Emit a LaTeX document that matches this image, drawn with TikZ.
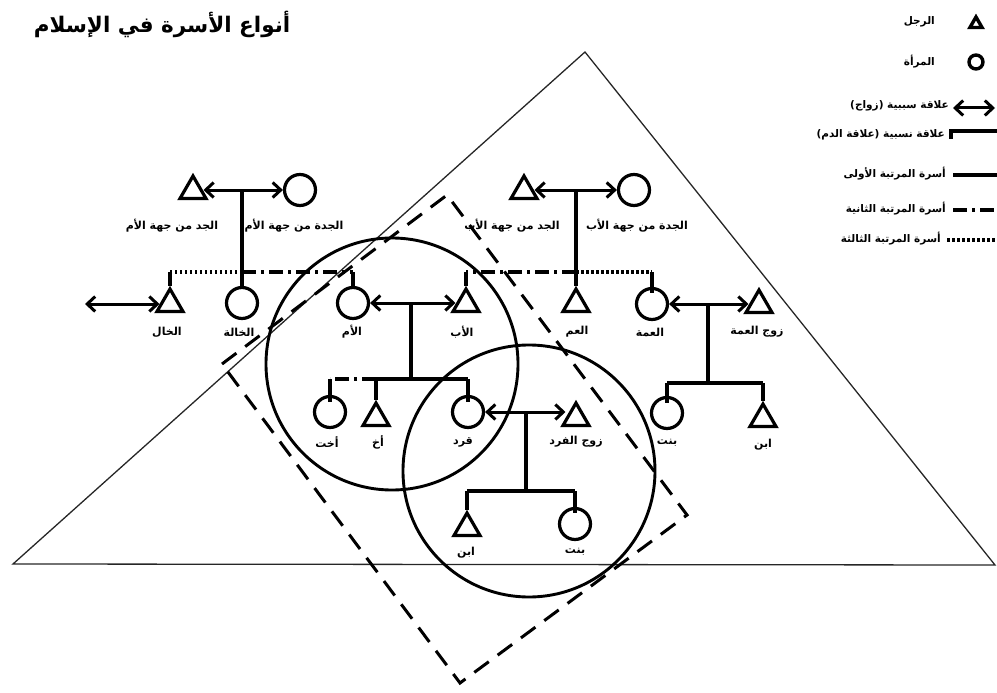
\documentclass[tikz,border=0pt]{standalone}
\usepackage{fontspec}
\newfontfamily\arabicfont[Script=Arabic]{DejaVu Sans}
\TeXXeTstate=1
\usetikzlibrary{arrows.meta,shapes.geometric}
\tikzset{man/.style={draw,regular polygon,regular polygon sides=3,line width=3.2pt,
 minimum size=30pt,inner sep=0pt},
 woman/.style={draw,circle,line width=3.2pt,minimum size=31pt,inner sep=0pt},
 lab/.style={font=\arabicfont\bfseries\fontsize{11}{13}\selectfont,inner sep=1pt},
 keylab/.style={lab,anchor=east,font=\arabicfont\bfseries\fontsize{10.5}{12}\selectfont},
 marr/.style={{Straight Barb[length=8pt,width=15pt]}-{Straight Barb[length=8pt,width=15pt]},
 line width=3pt},
 kin/.style={line width=3.2pt},
 rankb/.style={kin,dash pattern=on 14pt off 5pt on 3pt off 5pt},
 rankc/.style={kin,dash pattern=on 2.5pt off 2.5pt},
 ring/.style={line width=2.9pt},
 zone/.style={line width=3pt,dash pattern=on 18pt off 11pt},
 frame/.style={line width=1.3pt,black!85}}
\begin{document}
\begin{tikzpicture}[x=1pt,y=-1pt]
\useasboundingbox (0,0) rectangle (997,693);
% background: pyramid, zones
\coordinate (p1) at (13,564);
\coordinate (p2) at (585,52);
\coordinate (p3) at (995,565);
\draw[frame] (p1)--(p2)--(p3)--cycle;
\coordinate (z1) at (222,364);
\coordinate (z2) at (447,195);
\coordinate (z3) at (687,515);
\coordinate (z4) at (460,683);
\draw[zone] (z1)--(z2)--(z3)--(z4)--cycle;
\draw[ring] (392,364) circle[radius=126pt];
\draw[ring] (529,471) circle[radius=126pt];

\node[font=\arabicfont\bfseries\fontsize{21.5}{25}\selectfont] (title) at (162,24)
 {\beginR أنواع الأسرة في الإسلام\endR};

% grandparents
\node[man] (jdm) at (193,191) {};
\node[woman] (jdtm) at (300,190) {};
\node[man] (jdb) at (524,191) {};
\node[woman] (jdtb) at (634,190) {};
\node[lab] (l-jdm) at (172,226) {\beginR الجد من جهة الأم\endR};
\node[lab] (l-jdtm) at (294,226) {\beginR الجدة من جهة الأم\endR};
\node[lab] (l-jdb) at (512,226) {\beginR الجد من جهة الأب\endR};
\node[lab] (l-jdtb) at (637,226) {\beginR الجدة من جهة الأب\endR};
% parents, uncles, aunts
\node[man] (khal) at (170,304) {};
\node[woman] (khala) at (242,303) {};
\node[woman] (umm) at (353,303) {};
\node[man] (ab) at (466,304) {};
\node[man] (amm) at (576,304) {};
\node[woman] (amma) at (652,304) {};
\node[man] (zamma) at (759,305) {};
\node[lab] (l-khal) at (167,332) {\beginR الخال\endR};
\node[lab] (l-khala) at (239,332) {\beginR الخالة\endR};
\node[lab] (l-umm) at (352,332) {\beginR الأم\endR};
\node[lab] (l-ab) at (462,332) {\beginR الأب\endR};
\node[lab] (l-amm) at (577,332) {\beginR العم\endR};
\node[lab] (l-amma) at (650,332) {\beginR العمة\endR};
\node[lab] (l-zamma) at (757,332) {\beginR زوج العمة\endR};
% siblings, individual, cousins
\node[woman] (ukht) at (330,412) {};
\node[man] (akh) at (376,418) {};
\node[woman] (fard) at (468,412) {};
\node[man] (zfard) at (576,418) {};
\node[woman] (bint2) at (667,413) {};
\node[man] (ibn2) at (763,419) {};
\node[lab] (l-ukht) at (327,442) {\beginR أخت\endR};
\node[lab] (l-akh) at (378,442) {\beginR أخ\endR};
\node[lab] (l-fard) at (463,442) {\beginR قرد\endR};
\node[lab] (l-zfard) at (576,442) {\beginR زوج الفرد\endR};
\node[lab] (l-bint2) at (667,443) {\beginR بنت\endR};
\node[lab] (l-ibn2) at (763,445) {\beginR ابن\endR};
% children
\node[man] (ibn1) at (467,528) {};
\node[woman] (bint1) at (575,524) {};
\node[lab] (l-ibn1) at (466,553) {\beginR ابن\endR};
\node[lab] (l-bint1) at (575,552) {\beginR بنت\endR};

% marriages
\draw[marr] (jdm.east |- jdtm.west)--(jdtm.west);
\draw[marr] (jdb.east |- jdtb.west)--(jdtb.west);
\draw[marr] (umm.east)--(umm.east -| ab.west);
\draw[marr] (amma.east)--(amma.east -| zamma.west);
\draw[marr] (fard.east)--(fard.east -| zfard.west);
\coordinate (khalsp) at (85,304);
\draw[marr] (khalsp)--(khal.west);

% maternal side
\draw[kin] (khala.north |- jdtm.west)--(khala.north);
\coordinate (mbar) at (242,272);
\draw[rankc] (mbar)--(mbar -| khal.north);
\draw[rankb] (mbar)--(mbar -| umm.north);
\draw[kin] (mbar -| khal.north)--(khal.north);
\draw[kin] (mbar -| umm.north)--(umm.north);
% paternal side
\draw[kin] (amm.north |- jdtb.west)--(amm.north);
\coordinate (pbar) at (576,272);
\draw[rankb] (pbar)--(pbar -| ab.north);
\draw[rankc] (pbar)--(pbar -| amma.north);
\draw[kin] (pbar -| ab.north)--(ab.north);
\draw[kin] (pbar -| amma.north)--([yshift=-6pt]amma.north);
% children of the parents
\coordinate (pj) at (411,303);
\coordinate (cbar) at (411,379);
\draw[kin] (pj)--(cbar);
\draw[kin] (cbar -| akh.north)--(cbar -| fard.north);
\draw[rankb] (cbar -| akh.north)--(cbar -| ukht.north);
\draw[kin] (cbar -| akh.north)--(akh.north);
\draw[kin] (cbar -| fard.north)--([yshift=-7pt]fard.north);
\draw[kin] (cbar -| ukht.north)--([yshift=-7pt]ukht.north);
% children of the individual
\coordinate (fj) at (526,412);
\coordinate (fbar) at (526,491);
\draw[kin] (fj)--(fbar);
\draw[kin] (fbar -| ibn1.north)--(fbar -| bint1.north);
\draw[kin] (fbar -| ibn1.north)--(ibn1.north);
\draw[kin] (fbar -| bint1.north)--([yshift=-6pt]bint1.north);
% children of the aunt
\coordinate (aj) at (708,304);
\coordinate (abar) at (708,383);
\draw[kin] (aj)--(abar);
\draw[kin] (abar -| bint2.north)--(abar -| ibn2.north);
\draw[kin] (abar -| bint2.north)--([yshift=-7pt]bint2.north);
\draw[kin] (abar -| ibn2.north)--(ibn2.north);

% key
\node[man,minimum size=14pt,line width=3.4pt] (kman) at (976,24) {};
\node[keylab] (l-kman) at (936,22) {\beginR الرجل\endR};
\node[woman,minimum size=14pt,line width=3.4pt] (kwoman) at (976,62) {};
\node[keylab] (l-kwoman) at (936,62) {\beginR المرأة\endR};
\coordinate (ka1) at (953,108);
\coordinate (ka2) at (995,108);
\draw[marr] (ka1)--(ka2);
\node[keylab] (l-ka) at (950,106) {\beginR علاقة سببية (زواج)\endR};
\coordinate (kb1) at (951,139);
\coordinate (kb2) at (997,131);
\draw[kin] (kb1)|-(kb2);
\node[keylab] (l-kb) at (946,135) {\beginR علاقة نسبية (علاقة الدم)\endR};
\coordinate (kr1) at (953,175);
\coordinate (kr2) at (953,210);
\coordinate (kr3) at (947,240);
\draw[kin] (kr1)--++(44,0);
\draw[rankb] (kr2)--++(44,0);
\draw[rankc] (kr3)--++(50,0);
\node[keylab] (l-kr1) at (947,174) {\beginR أسرة المرتبة الأولى\endR};
\node[keylab] (l-kr2) at (947,209) {\beginR أسرة المرتبة الثانية\endR};
\node[keylab] (l-kr3) at (942,239) {\beginR أسرة المرتبة الثالثة\endR};
\end{tikzpicture}
\end{document}
